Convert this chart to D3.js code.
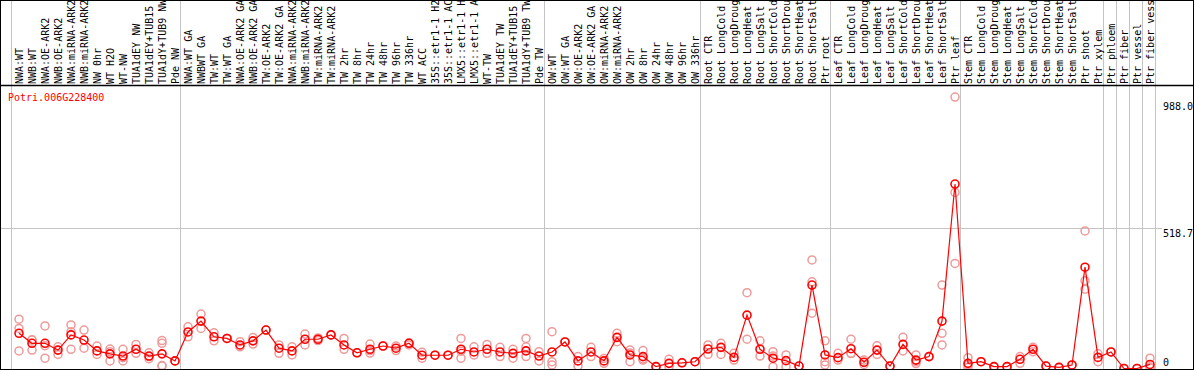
<!DOCTYPE html>
<html>
<head>
<meta charset="utf-8">
<script src="https://cdn.jsdelivr.net/npm/d3@7"></script>
<style>
	body { margin: 0; background: #fff; }
	svg { display: block; }
	text { font-family: 'DejaVu Sans Mono', monospace; font-size: 10px; }
</style>
</head>
<body>
<div id="chart"></div>
<script>
// Column labels (as shown, truncated to 14 chars)
const categories = [
	'NWA:WT', 'NWB:WT', 'NWA:OE-ARK2', 'NWB:OE-ARK2', 'NWA:miRNA-ARK2', 'NWB:miRNA-ARK2', 'NW 0hr', 'WT H2O', 'WT-NW', 'TUA1dEY NW', 'TUA1dEY+TUB15', 'TUA1dY+TUB9 NW', 'Pde NW',
	'NWA:WT GA', 'NWBWT GA', 'TW:WT', 'TW:WT GA', 'NWA:OE-ARK2 GA', 'NWB:OE-ARK2 GA', 'TW:OE-ARK2', 'TW:OE-ARK2 GA', 'NWA:miRNA-ARK2', 'NWB:miRNA-ARK2', 'TW:miRNA-ARK2', 'TW:miRNA-ARK2',
	'TW 2hr', 'TW 8hr', 'TW 24hr', 'TW 48hr', 'TW 96hr', 'TW 336hr', 'WT ACC', '35S::etr1-1 H2', '35S::etr1-1 AC', 'LMX5::etr1-1 H', 'LMX5::etr1-1 A', 'WT-TW', 'TUA1dEY TW', 'TUA1dEY+TUB15', 'TUA1dY+TUB9 TW', 'Pde TW',
	'OW:WT', 'OW:WT GA', 'OW:OE-ARK2', 'OW:OE-ARK2 GA', 'OW:miRNA-ARK2', 'OW:miRNA-ARK2', 'OW 2hr', 'OW 8hr', 'OW 24hr', 'OW 48hr', 'OW 96hr', 'OW 336hr',
	'Root CTR', 'Root LongCold', 'Root LongDroug', 'Root LongHeat', 'Root LongSalt', 'Root ShortCold', 'Root ShortDrou', 'Root ShortHeat', 'Root ShortSalt', 'Ptr root',
	'Leaf CTR', 'Leaf LongCold', 'Leaf LongDroug', 'Leaf LongHeat', 'Leaf LongSalt', 'Leaf ShortCold', 'Leaf ShortDrou', 'Leaf ShortHeat', 'Leaf ShortSalt', 'Ptr leaf',
	'Stem CTR', 'Stem LongCold', 'Stem LongDroug', 'Stem LongHeat', 'Stem LongSalt', 'Stem ShortCold', 'Stem ShortDrou', 'Stem ShortHeat', 'Stem ShortSalt', 'Ptr shoot',
	'Ptr xylem', 'Ptr phloem', 'Ptr fiber', 'Ptr vessel', 'Ptr fiber vess',
];

// Mean expression per column
const means = [
	130, 93, 93, 68, 124, 105, 65, 54, 46, 71, 46, 54, 28,
	135, 175, 117, 111, 87, 102, 142, 75, 65, 108, 108, 124,
	87, 58, 71, 83, 75, 93, 49, 49, 49, 71, 61, 71, 61, 56, 65, 46,
	61, 98, 28, 61, 28, 115, 50, 44, 7, 19, 21, 25,
	72, 78, 41, 197, 71, 38, 29, 9, 308, 50,
	40, 73, 23, 68, 9, 89, 31, 44, 175, 681,
	19, 25, 7, 7, 34, 71, 9, 4, 13, 374,
	41, 61, 0, 0, 15,
];

// Replicate values per column
const replicates = [
	[182, 148, 65], [105, 68, 106], [157, 38, 84], [80, 52], [161, 136, 71], [142, 75], [83, 52], [72, 28, 62], [71, 28, 40], [89, 56], [58, 44, 36], [103, 93, 9, 11], [28],
	[154, 117], [201, 148], [132, 102], [111, 111], [99, 80], [114, 90], [142], [87, 56], [80, 50], [127, 87], [113, 103], [124, 124],
	[111, 71], [58], [90, 66, 57], [83], [83, 66], [95, 87], [38, 60], [49], [49], [111, 38, 64], [80, 50], [89, 56], [78, 44], [71, 38], [111, 80, 44], [62, 28],
	[136, 25, 13], [98], [44, 9], [78, 44], [19, 37], [130, 99], [68, 25, 57], [66, 31, 35], [7], [34, 7], [21], [25],
	[87, 52], [93, 52], [56, 31], [280, 108], [102, 46], [62, 6, 46], [50, 7], [9], [401, 320, 204], [102, 25, 13],
	[56, 31], [108, 56, 55], [31, 15], [52, 84], [9], [115, 65], [50, 25, 18], [44], [308, 130, 87], [1002, 650, 388],
	[40, 13, 4], [25], [7], [7], [44, 19], [78, 62], [9], [4], [13], [508, 324, 293],
	[54, 25], [61], [0], [0], [38, 4, 3],
];

const geneName = 'Potri.006G228400';
const yTicks = [0, 518.7, 988.0];
// first column of each block (separators), last entry closes the data area
const groupStarts = [0, 13, 41, 53, 63, 73, 84, 85, 86, 87, 88];

const width = 1194;
const height = 370;
const headerBottom = 85.5;

const svg = d3.select('#chart').append('svg').attr('width', width).attr('height', height);

const x = d3.scaleBand().domain(d3.range(categories.length)).range([10.5, 10.5 + 13 * categories.length]);
const cx = (i) => x(i) + 8.5;
const sepX = (i) => (i < categories.length ? x(i) : x(categories.length - 1) + x.bandwidth());

const y = d3.scaleLinear().domain([0, 518.7]).range([368.5, 228]);

// Block separators
svg.append('g')
	.selectAll('line')
	.data(groupStarts)
	.enter()
	.append('line')
	.attr('x1', (d) => Math.round(sepX(d)) + 0.5)
	.attr('x2', (d) => Math.round(sepX(d)) + 0.5)
	.attr('y1', 0)
	.attr('y2', height)
	.attr('stroke', '#c4c4c4')
	.attr('stroke-width', 1);

// Horizontal grid (middle tick only)
svg.append('line')
	.attr('x1', 0)
	.attr('x2', 1162)
	.attr('y1', Math.round(y(518.7)) + 0.5)
	.attr('y2', Math.round(y(518.7)) + 0.5)
	.attr('stroke', '#c4c4c4');

// Column labels
svg.append('g')
	.selectAll('text')
	.data(categories)
	.enter()
	.append('text')
	.attr('transform', (d, i) => `translate(${cx(i) + 3.5},84) rotate(-90)`)
	.attr('fill', '#000')
	.text((d) => d);

// Y tick labels
svg.append('g')
	.selectAll('text')
	.data(yTicks)
	.enter()
	.append('text')
	.attr('x', 1163)
	.attr('y', (d) => (d === 0 ? 366 : y(d) + 9))
	.attr('fill', '#000')
	.text((d) => (d === 0 ? '0' : d.toFixed(1)));

// Plot area
svg.append('clipPath').attr('id', 'plot-clip').append('rect').attr('x', 1).attr('y', headerBottom + 1).attr('width', width - 2).attr('height', height - headerBottom - 2);
const plot = svg.append('g').attr('clip-path', 'url(#plot-clip)');

const reps = [];
replicates.forEach((vals, i) => vals.forEach((v) => reps.push({ i: i, v: v })));

plot.selectAll('.rep')
	.data(reps)
	.enter()
	.append('circle')
	.attr('class', 'rep')
	.attr('cx', (d) => cx(d.i))
	.attr('cy', (d) => y(d.v))
	.attr('r', 4)
	.attr('fill', 'none')
	.attr('stroke', '#ee9a9a')
	.attr('stroke-width', 1.5);

const line = d3
	.line()
	.x((d, i) => cx(i))
	.y((d) => y(d));

plot.append('path').datum(means).attr('d', line).attr('fill', 'none').attr('stroke', '#ff0000').attr('stroke-width', 1.2);

plot.selectAll('.mean')
	.data(means)
	.enter()
	.append('circle')
	.attr('class', 'mean')
	.attr('cx', (d, i) => cx(i))
	.attr('cy', (d) => y(d))
	.attr('r', 4)
	.attr('fill', 'none')
	.attr('stroke', '#ff0000')
	.attr('stroke-width', 1.6);

// Gene name
svg.append('text').attr('x', 8).attr('y', 101).attr('fill', '#ff0000').text(geneName);

// Frame and header separator
svg.append('rect').attr('x', 0.5).attr('y', 0.5).attr('width', width - 1).attr('height', height - 1).attr('fill', 'none').attr('stroke', '#000');
svg.append('line').attr('x1', 0).attr('x2', width).attr('y1', headerBottom).attr('y2', headerBottom).attr('stroke', '#000').attr('stroke-width', 1.5);
</script>
</body>
</html>
